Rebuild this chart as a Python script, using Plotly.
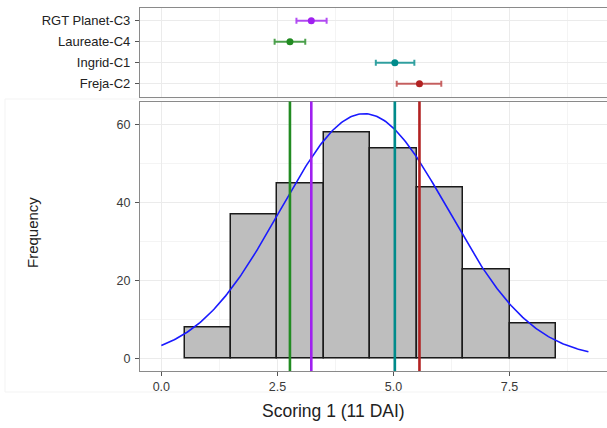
import numpy as np
import plotly.graph_objects as go

# ---- data ----
bin_centers = [1, 2, 3, 4, 5, 6, 7, 8]
bin_counts = [8, 37, 45, 58, 54, 44, 23, 9]
bin_width = 1.0

curve_mean = 4.37
curve_sd = 1.81
curve_total = 285
curve_x_min = 0.0
curve_x_max = 9.2

genotypes = ["Freja-C2", "Ingrid-C1", "Laureate-C4", "RGT Planet-C3"]
geno_means = [5.56, 5.03, 2.77, 3.23]
geno_low = [5.07, 4.62, 2.44, 2.91]
geno_high = [6.03, 5.45, 3.10, 3.56]
geno_colors = ["#B22222", "#008B8B", "#228B22", "#A020F0"]
geno_err_colors = ["rgba(178,34,34,0.7)", "rgba(0,139,139,0.8)",
                   "rgba(34,139,34,0.8)", "rgba(160,32,240,0.8)"]

x_ticks = [0, 2.5, 5.0, 7.5]
x_tick_text = ["0.0", "2.5", "5.0", "7.5"]
y_ticks = [0, 20, 40, 60]

# ---- figure ----
fig = go.Figure()

fig.add_trace(go.Bar(
    x=bin_centers, y=bin_counts, width=bin_width,
    marker=dict(color="#BEBEBE", line=dict(color="#1a1a1a", width=1.5)),
    xaxis="x", yaxis="y", showlegend=False, hoverinfo="skip"))

cx = np.linspace(curve_x_min, curve_x_max, 300)
cy = curve_total * bin_width * np.exp(-0.5 * ((cx - curve_mean) / curve_sd) ** 2) / (curve_sd * np.sqrt(2 * np.pi))
fig.add_trace(go.Scatter(x=cx, y=cy, mode="lines",
                         line=dict(color="#1a1aff", width=1.6),
                         xaxis="x", yaxis="y", showlegend=False, hoverinfo="skip"))

for m, c in zip(geno_means, geno_colors):
    fig.add_shape(type="line", x0=m, x1=m, xref="x", y0=0, y1=1, yref="y domain",
                  line=dict(color=c, width=2.6), layer="above")

for g, m, lo, hi, c, ec in zip(genotypes, geno_means, geno_low, geno_high, geno_colors, geno_err_colors):
    fig.add_trace(go.Scatter(
        x=[m], y=[g], mode="markers",
        marker=dict(color=c, size=7),
        error_x=dict(type="data", symmetric=False, array=[hi - m], arrayminus=[m - lo],
                     color=ec, thickness=2, width=3),
        xaxis="x2", yaxis="y2", showlegend=False, hoverinfo="skip"))

W, H = 607, 428
L, R, T, B = 140, 0, 8, 57
ph = H - T - B
top_bottom_px = 96.5
low_top_px = 101.5

xrange = [-0.46, 9.6]
axis_line = "#8a8a8a"
grid = "#EBEBEB"
minor_grid = "#F4F4F4"

fig.update_layout(
    width=W, height=H,
    margin=dict(l=L, r=R, t=T, b=B),
    paper_bgcolor="white", plot_bgcolor="white",
    font=dict(family="Liberation Sans, Arial, sans-serif"),
    bargap=0,
    xaxis=dict(domain=[0, 1], anchor="y", range=xrange,
               tickvals=x_ticks, ticktext=x_tick_text,
               ticks="outside", ticklen=4, tickcolor="#555", tickwidth=1,
               tickfont=dict(size=12.5, color="#3a3a3a"),
               showgrid=True, gridcolor=grid, gridwidth=1,
               minor=dict(dtick=1.25, tick0=0, showgrid=True, gridcolor=minor_grid, gridwidth=1),
               showline=True, linecolor=axis_line, linewidth=1.2, mirror=True,
               zeroline=False),
    yaxis=dict(domain=[0, (H - B - low_top_px) / ph], anchor="x",
               range=[-3.14, 65.94], tickvals=y_ticks,
               ticks="outside", ticklen=4, tickcolor="#555", tickwidth=1,
               tickfont=dict(size=12.5, color="#3a3a3a"),
               showgrid=True, gridcolor=grid, gridwidth=1,
               minor=dict(dtick=10, tick0=0, showgrid=True, gridcolor=minor_grid, gridwidth=1),
               showline=True, linecolor=axis_line, linewidth=1.2,
               zeroline=False, ticklabelstandoff=2),
    xaxis2=dict(domain=[0, 1], anchor="y2", matches="x", range=xrange,
                tickvals=x_ticks, showticklabels=False, ticks="",
                showgrid=True, gridcolor=grid, gridwidth=1,
                minor=dict(dtick=1.25, tick0=0, showgrid=True, gridcolor=minor_grid, gridwidth=1),
                showline=True, linecolor=axis_line, linewidth=1.2, mirror=True,
                zeroline=False),
    yaxis2=dict(domain=[(H - B - top_bottom_px) / ph, 1], anchor="x2",
                type="category", categoryorder="array", categoryarray=genotypes,
                range=[-0.6, 3.6],
                ticks="outside", ticklen=4, tickcolor="#555", tickwidth=1,
                tickfont=dict(size=13, color="#222"),
                showgrid=True, gridcolor=grid, gridwidth=1,
                showline=True, linecolor=axis_line, linewidth=1.2,
                zeroline=False, ticklabelstandoff=2),
)

# axis titles
fig.add_annotation(text="Scoring 1 (11 DAI)", xref="paper", yref="paper",
                   x=(333 - L) / (W - L - R), y=(H - B - 411) / ph,
                   xanchor="center", yanchor="middle", showarrow=False,
                   font=dict(size=17.5, color="#222"))
fig.add_annotation(text="Frequency", xref="paper", yref="paper",
                   x=(33 - L) / (W - L - R), y=(H - B - 233) / ph,
                   xanchor="center", yanchor="middle", showarrow=False, textangle=-90,
                   font=dict(size=15, color="#222"))

# faint outer frame of the lower plot
fig.add_shape(type="rect", xref="paper", yref="paper",
              x0=(5 - L) / (W - L - R), x1=1.02,
              y0=(H - B - 392) / ph, y1=(H - B - 99) / ph,
              line=dict(color="#F3F3F3", width=1), layer="below")

fig.write_html("out.html")
